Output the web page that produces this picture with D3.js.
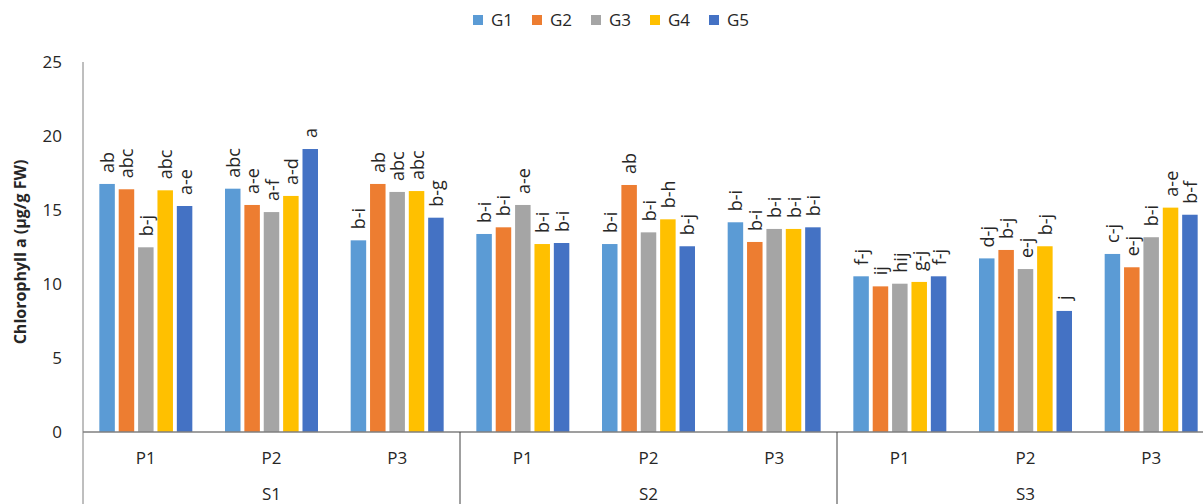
<!DOCTYPE html>
<html>
<head>
<meta charset="utf-8">
<script src="https://cdn.jsdelivr.net/npm/d3@7"></script>
<style>
  html, body { margin: 0; padding: 0; background: #fff; }
  svg { display: block; font-family: "Open Sans", "Liberation Sans", sans-serif; }
</style>
</head>
<body>
<svg id="chart" width="1203" height="504"></svg>
<script>
// Chlorophyll a content by season (S), plot (P) and genotype (G)
const seasons = ["S1", "S2", "S3"];
const plots = ["P1", "P2", "P3"];
const genotypes = ["G1", "G2", "G3", "G4", "G5"];
const colors = ["#5B9BD5", "#ED7D31", "#A5A5A5", "#FFC000", "#4472C4"];
const yTicks = [0, 5, 10, 15, 20, 25];

// one row per season/plot, one value per genotype
const valuesS1 = [
  [16.76, 16.40, 12.48, 16.33, 15.27],
  [16.44, 15.34, 14.86, 15.95, 19.12],
  [12.95, 16.76, 16.22, 16.28, 14.48]
];
const valuesS2 = [
  [13.38, 13.83, 15.34, 12.70, 12.77],
  [12.70, 16.69, 13.49, 14.37, 12.55],
  [14.17, 12.84, 13.72, 13.72, 13.83]
];
const valuesS3 = [
  [10.52, 9.84, 10.02, 10.14, 10.52],
  [11.73, 12.30, 11.01, 12.55, 8.18],
  [12.03, 11.13, 13.16, 15.16, 14.68]
];

// mean separation letters
const lettersS1 = [
  ["ab", "abc", "b-j", "abc", "a-e"],
  ["abc", "a-e", "a-f", "a-d", "a"],
  ["b-i", "ab", "abc", "abc", "b-g"]
];
const lettersS2 = [
  ["b-i", "b-i", "a-e", "b-i", "b-i"],
  ["b-i", "ab", "b-i", "b-h", "b-j"],
  ["b-i", "b-i", "b-i", "b-i", "b-i"]
];
const lettersS3 = [
  ["f-j", "ij", "hij", "g-j", "f-j"],
  ["d-j", "b-j", "e-j", "b-j", "j"],
  ["c-j", "e-j", "b-i", "a-e", "b-f"]
];

const allValues = [valuesS1, valuesS2, valuesS3];
const allLetters = [lettersS1, lettersS2, lettersS3];

const rows = [];
seasons.forEach((s, si) => {
  plots.forEach((p, pi) => {
    rows.push({
      key: s + "-" + p, season: s, plot: p,
      values: allValues[si][pi], letters: allLetters[si][pi]
    });
  });
});

const svg = d3.select("#chart");
const x0L = 83, x0R = 1214, yTop = 62, yBottom = 432;
const textColor = "#262626";
const axisColor = "#7f7f7f";

const x = d3.scaleBand().domain(rows.map(r => r.key)).range([x0L, x0R]).paddingInner(0).paddingOuter(0);
const xs = d3.scaleBand().domain(seasons).range([x0L, x0R]);
const xg = d3.scaleBand().domain(genotypes).range([0, x.bandwidth() * 0.74])
  .paddingInner(0.2).paddingOuter(0);
const gOffset = (x.bandwidth() - x.bandwidth() * 0.74) / 2;
const y = d3.scaleLinear().domain([0, 25]).range([yBottom, yTop]);

// legend
const legend = svg.append("g").attr("transform", "translate(473,20)");
genotypes.forEach((g, i) => {
  const item = legend.append("g").attr("transform", `translate(${i * 59},0)`);
  item.append("rect").attr("x", 0).attr("y", -5).attr("width", 10).attr("height", 10).attr("fill", colors[i]);
  item.append("text").attr("x", 18).attr("y", 0).attr("dy", "0.35em")
    .attr("font-size", 17).attr("fill", textColor).text(g);
});

// y axis
const yAxis = svg.append("g").attr("transform", `translate(${x0L},0)`)
  .call(d3.axisLeft(y).tickValues(yTicks).tickSize(0).tickPadding(21));
yAxis.select(".domain").attr("stroke", axisColor).attr("d", `M0,${yTop}V504`);
yAxis.selectAll("text").attr("font-size", 17).attr("fill", textColor)
  .attr("font-family", "Open Sans, sans-serif");

svg.append("text")
  .attr("transform", `translate(20,252) rotate(-90)`)
  .attr("text-anchor", "middle").attr("dy", "0.35em")
  .attr("font-size", 16).attr("font-weight", "bold")
  .attr("fill", textColor).text("Chlorophyll a (µg/g FW)");

// bars
const groups = svg.append("g").selectAll("g.cat").data(rows).join("g")
  .attr("class", "cat").attr("transform", d => `translate(${x(d.key) + gOffset},0)`);

groups.selectAll("rect").data(d => d.values.map((v, i) => ({ v, i, g: genotypes[i] })))
  .join("rect")
  .attr("x", d => xg(d.g)).attr("width", xg.bandwidth())
  .attr("y", d => y(d.v)).attr("height", d => y(0) - y(d.v))
  .attr("fill", d => colors[d.i]);

// letters above bars
groups.selectAll("text.lab").data(d => d.values.map((v, i) => ({ v, i, g: genotypes[i], t: d.letters[i] })))
  .join("text").attr("class", "lab")
  .attr("transform", d => `translate(${xg(d.g) + xg.bandwidth() / 2 + 7},${y(d.v) - 11}) rotate(-90)`)
  .attr("font-size", 18).attr("fill", textColor).text(d => d.t);

// category axis
svg.append("line").attr("x1", x0L).attr("x2", x0R).attr("y1", yBottom).attr("y2", yBottom)
  .attr("stroke", axisColor).attr("stroke-width", 1.5);

const xAxis = svg.append("g").attr("transform", `translate(0,${yBottom})`)
  .call(d3.axisBottom(x).tickSize(0).tickPadding(20).tickFormat(k => k.split("-")[1]));
xAxis.select(".domain").remove();
xAxis.selectAll("text").attr("font-size", 17).attr("fill", textColor)
  .attr("font-family", "Open Sans, sans-serif");

// season separators and labels
seasons.forEach((s, i) => {
  if (i > 0) {
    svg.append("line").attr("x1", xs(s)).attr("x2", xs(s)).attr("y1", yBottom).attr("y2", 504)
      .attr("stroke", "#404040").attr("stroke-width", 1);
  }
  svg.append("text").attr("x", xs(s) + xs.bandwidth() / 2).attr("y", 494).attr("dy", "0.35em")
    .attr("text-anchor", "middle").attr("font-size", 17).attr("fill", textColor).text(s);
});
</script>
</body>
</html>
